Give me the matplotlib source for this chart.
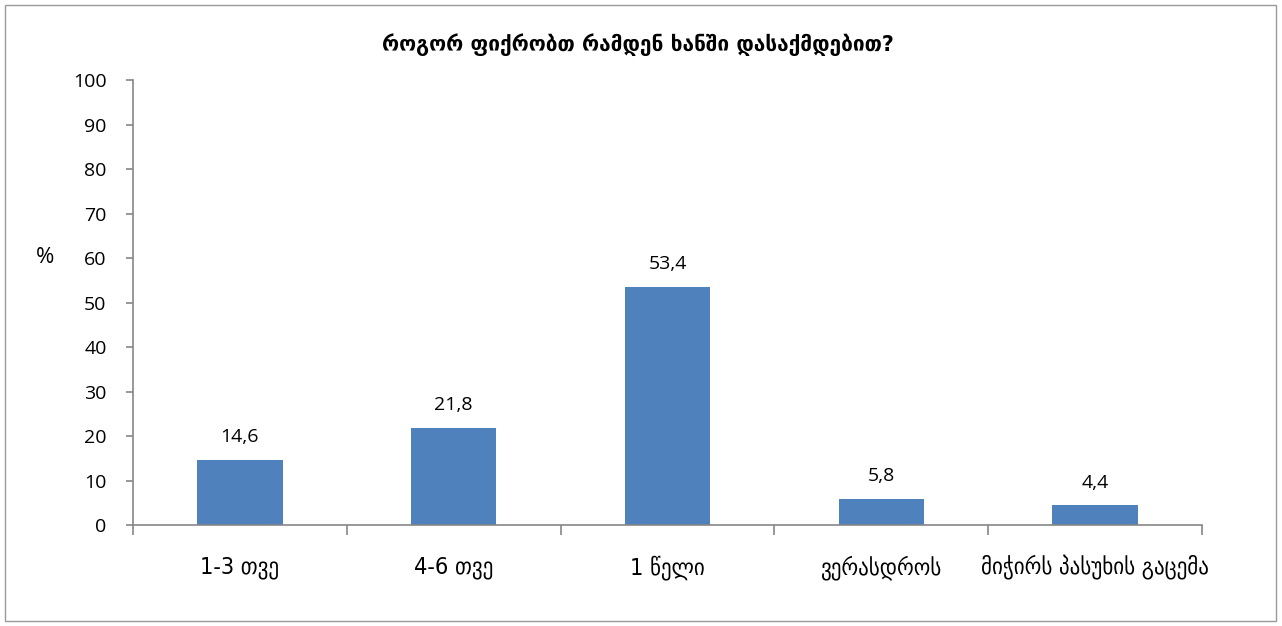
import matplotlib
matplotlib.use("Agg")
import matplotlib.pyplot as plt
from matplotlib.patches import Rectangle

categories = ["1-3 თვე", "4-6 თვე", "1 წელი", "ვერასდროს", "მიჭირს პასუხის გაცემა"]
values = [14.6, 21.8, 53.4, 5.8, 4.4]
value_labels = ["14,6", "21,8", "53,4", "5,8", "4,4"]
yticks = list(range(0, 101, 10))
title = "როგორ ფიქრობთ რამდენ ხანში დასაქმდებით?"

plt.rcParams["font.family"] = ["Open Sans", "DejaVu Sans"]

fig = plt.figure(figsize=(12.82, 6.26), dpi=100)
fig.patches.append(Rectangle((0.004, 0.008), 0.991, 0.984, transform=fig.transFigure,
                             fill=False, edgecolor="#9a9a9a", linewidth=1.0))

ax = fig.add_axes([0.1037, 0.1613, 0.8339, 0.7109])
x = list(range(len(categories)))
ax.bar(x, values, width=0.4, color="#4f81bd")

ax.set_xlim(-0.5, len(categories) - 0.5)
ax.set_ylim(0, 100)
ax.set_yticks(yticks)
ax.set_yticklabels([str(t) for t in yticks], fontsize=14)

for s in ["top", "right"]:
    ax.spines[s].set_visible(False)
for s in ["left", "bottom"]:
    ax.spines[s].set_color("#868686")
    ax.spines[s].set_linewidth(1.2)

ax.tick_params(axis="y", direction="out", length=5, width=1.2, color="#868686", pad=14)
ax.set_xticks([i - 0.5 for i in range(len(categories) + 1)])
ax.set_xticklabels([])
ax.tick_params(axis="x", direction="out", length=7, width=1.2, color="#868686")

for i, c in enumerate(categories):
    ax.text(i, -9.6, c, ha="center", va="center", fontsize=16.8,
            family=["DejaVu Sans"], stretch="condensed")

for i, (v, lab) in enumerate(zip(values, value_labels)):
    ax.annotate(lab, (i, v), xytext=(0, 10), textcoords="offset points",
                ha="center", va="bottom", fontsize=14)

fig.text(0.0355, 0.588, "%", ha="center", va="center", fontsize=16)
fig.text(0.498, 0.928, title, ha="center", va="center", fontsize=15,
         fontweight="bold", family=["DejaVu Sans"])

fig.savefig("out.png", dpi=100)
